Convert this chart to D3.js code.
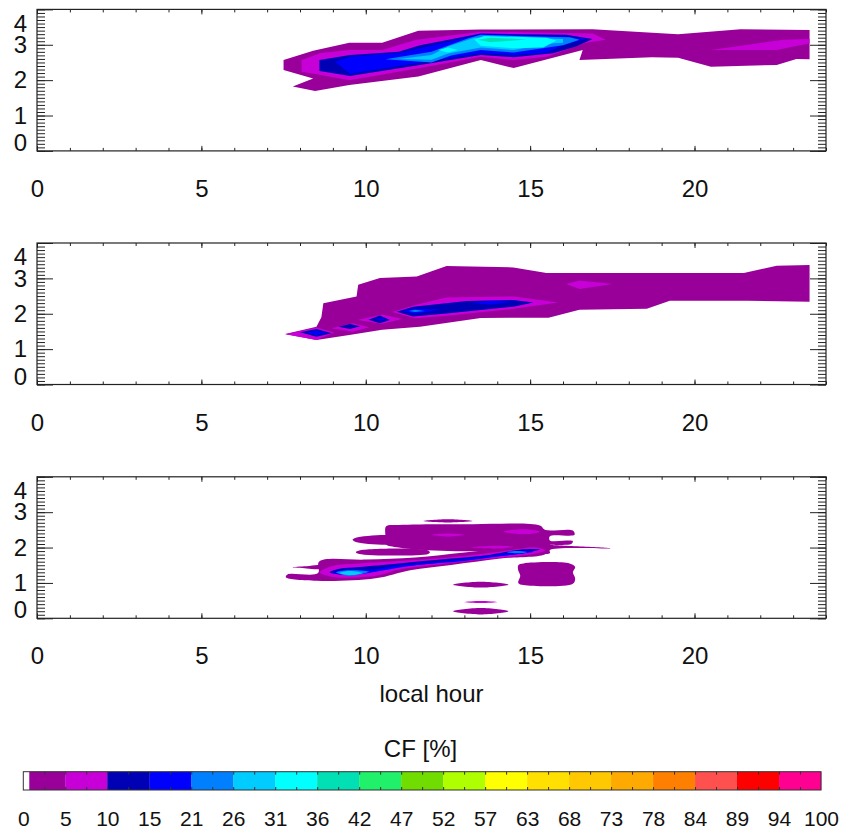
<!DOCTYPE html>
<html>
<head>
<meta charset="utf-8">
<script src="https://cdn.jsdelivr.net/npm/d3@7"></script>
<style>
  html, body { margin: 0; padding: 0; background: #fff; }
  svg { display: block; font-family: "Liberation Sans", Arial, Helvetica, sans-serif; }
</style>
</head>
<body>
<svg id="chart" width="841" height="832"></svg>
<script>
// ---------------- data ----------------
const hourTicks = [0, 5, 10, 15, 20];
const heightTicks = [0, 1, 2, 3, 4];
const xLabel = "local hour";
const cbTitle = "CF [%]";

// colour-bar level boundaries (CF %) and printed labels
const cfLevels = [0, 5.26, 10.53, 15.79, 21.05, 26.32, 31.58, 36.84, 42.11, 47.37,
                  52.63, 57.89, 63.16, 68.42, 73.68, 78.95, 84.21, 89.47, 94.74, 100];
const cfLabels = ["0","5","10","15","21","26","31","36","42","47",
                  "52","57","63","68","73","78","84","89","94","100"];
const cfColors = ["#990099","#C800D8","#0000B4","#0000FF","#0080FF","#00CCFF","#00FFFF",
                  "#00E0B4","#20F06A","#70DC00","#B0FF00","#FFFF00","#FFE000","#FFC800",
                  "#FFAA00","#FF8000","#FF5050","#FF0000","#FF0090"];
const cfZeroBand = 0.75; // white (empty) part of the first colour-bar cell

// filled contour regions: band index into cfColors, outline as [hour, height km]
const panel1Contours = [
  {band: 0, pts: [[7.5,2.57],[8.4,2.83],[9.5,3.06],[10.5,3.06],[11.6,3.4],[13.5,3.43],[16.9,3.44],[19.5,3.3],[21.4,3.44],[23.5,3.42],[23.5,2.59],[23.1,2.6],[22.5,2.43],[20.5,2.38],[19.5,2.63],[18.7,2.65],[16.5,2.57],[16.6,2.85],[14.5,2.34],[13.5,2.57],[11.6,2.1],[9.5,1.86],[8.46,1.69],[7.78,1.82],[8.4,2.05],[7.5,2.29]]},
  {band: 1, pts: [[8.05,2.57],[8.6,2.76],[9.5,2.85],[10.5,2.85],[11.55,3.14],[13.5,3.37],[16.9,3.32],[17.3,3.14],[16.7,3.06],[15.5,2.66],[14.5,2.57],[13.5,2.66],[11.65,2.34],[9.5,2.0],[8.6,2.15],[8.05,2.24]]},
  {band: 1, pts: [[20.5,2.85],[22.7,3.14],[23.5,3.16],[23.5,3.04],[22.5,2.85]]},
  {band: 2, pts: [[8.59,2.57],[9.52,2.71],[11.0,2.8],[11.65,2.99],[13.5,3.32],[16.1,3.28],[16.9,3.16],[16.4,2.95],[15.7,2.76],[14.5,2.65],[13.5,2.71],[11.65,2.43],[9.52,2.12],[8.59,2.26]]},
  {band: 3, pts: [[9.06,2.52],[9.52,2.66],[11.0,2.76],[11.65,2.9],[13.5,3.3],[16.0,3.25],[16.7,3.16],[16.0,2.99],[15.5,2.78],[14.5,2.71],[13.5,2.76],[11.65,2.49],[9.52,2.18]]},
  {band: 4, pts: [[10.6,2.59],[12.0,2.8],[13.1,3.18],[13.5,3.28],[15.4,3.23],[16.2,3.21],[16.5,3.14],[16.0,2.99],[14.5,2.78],[13.5,2.85],[12.6,2.7],[12.0,2.5]]},
  {band: 5, pts: [[11.0,2.6],[12.0,2.71],[12.5,2.95],[13.3,3.2],[15.5,3.18],[16.0,3.16],[16.0,3.06],[15.7,3.04],[14.5,2.85],[13.5,2.92],[12.5,2.75],[12.0,2.58]]},
  {band: 6, pts: [[13.3,3.15],[13.6,3.25],[15.5,3.2],[15.8,3.12],[15.4,2.92],[14.5,2.9],[13.5,2.97]]},
  {band: 6, pts: [[12.2,2.85],[12.5,2.92],[12.8,2.85],[12.5,2.78]]},
  {band: 7, pts: [[13.4,3.14],[13.8,3.2],[14.9,3.15],[13.8,3.07]]}
];

const panel2Contours = [
  {band: 0, pts: [[7.55,1.43],[8.5,1.63],[8.65,1.9],[8.71,2.3],[9.72,2.49],[9.77,2.82],[10.43,3.01],[11.55,3.05],[12.46,3.35],[14.49,3.31],[15.5,3.15],[21.5,3.15],[22.5,3.36],[23.5,3.38],[23.5,2.34],[21.6,2.37],[19.25,2.37],[18.55,2.14],[16.5,2.11],[15.56,1.89],[13.5,1.88],[11.65,1.63],[10.5,1.55],[9.5,1.4],[8.5,1.26]]},
  {band: 1, pts: [[7.55,1.42],[8.5,1.61],[9.05,1.47],[8.5,1.26]]},
  {band: 1, pts: [[8.95,1.59],[9.6,1.73],[10.1,1.62],[9.6,1.49]]},
  {band: 1, pts: [[9.75,1.82],[10.5,1.98],[11.1,1.85],[10.5,1.72]]},
  {band: 1, pts: [[10.8,2.05],[11.5,2.25],[12.46,2.46],[14.5,2.49],[15.86,2.32],[14.5,2.14],[12.46,1.94],[11.5,1.87]]},
  {band: 1, pts: [[16.1,2.84],[16.5,2.94],[17.5,2.84],[16.5,2.7]]},
  {band: 2, pts: [[8.0,1.48],[8.5,1.57],[8.96,1.45],[8.5,1.35]]},
  {band: 2, pts: [[9.17,1.63],[9.52,1.71],[9.83,1.65],[9.52,1.57]]},
  {band: 2, pts: [[10.08,1.83],[10.43,1.95],[10.74,1.82],[10.43,1.73]]},
  {band: 2, pts: [[10.94,2.06],[11.44,2.2],[13.07,2.36],[14.49,2.39],[15.1,2.32],[14.49,2.2],[12.46,2.01],[11.44,1.92]]},
  {band: 3, pts: [[8.2,1.47],[8.5,1.52],[8.8,1.46],[8.5,1.4]]},
  {band: 3, pts: [[10.3,1.84],[10.45,1.88],[10.6,1.84],[10.45,1.8]]},
  {band: 3, pts: [[11.1,2.07],[11.5,2.14],[12.3,2.12],[11.5,2.0]]},
  {band: 3, pts: [[13.2,2.3],[13.8,2.36],[14.5,2.34],[13.8,2.26]]},
  {band: 4, pts: [[11.3,2.08],[11.5,2.11],[11.8,2.08],[11.5,2.05]]}
];

const panel3Contours = [
  {band: 0, pts: [[7.57,1.16],[7.62,1.24],[8.55,1.28],[8.58,1.6],[10.0,1.66],[11.5,1.72],[13.0,1.86],[14.5,2.0],[15.45,2.02],[15.5,1.84],[14.1,1.69],[12.6,1.51],[11.35,1.36],[10.3,1.13],[8.5,1.06]]},
  {band: 0, pts: [[7.75,1.44],[8.2,1.47],[8.6,1.49],[8.6,1.4],[8.2,1.41]]},
  {band: 0, pts: [[9.7,1.87],[9.8,1.92],[11.9,1.92],[11.95,1.86],[11.9,1.82],[9.8,1.82]]},
  {band: 0, pts: [[9.6,2.22],[9.7,2.28],[11.0,2.3],[11.0,2.13],[9.7,2.16]]},
  {band: 0, pts: [[10.6,2.3],[10.62,2.6],[11.0,2.64],[13.2,2.66],[15.3,2.62],[15.45,2.5],[16.3,2.48],[16.35,2.36],[15.6,2.32],[15.6,2.2],[16.3,2.18],[16.25,2.1],[15.6,2.08],[17.45,1.98],[15.6,1.93],[15.6,1.84],[14.6,1.9],[12.5,1.9],[11.0,2.0],[10.6,2.1]]},
  {band: 0, pts: [[11.75,2.75],[12.5,2.8],[13.25,2.75],[12.5,2.71]]},
  {band: 0, pts: [[14.64,1.5],[14.8,1.55],[16.2,1.55],[16.37,1.45],[16.3,1.3],[16.37,1.12],[16.3,0.98],[14.8,0.94],[14.64,1.0],[14.7,1.2],[14.64,1.35]]},
  {band: 0, pts: [[12.66,0.95],[13.5,1.03],[14.34,0.95],[13.5,0.87]]},
  {band: 0, pts: [[12.66,0.2],[13.5,0.29],[14.34,0.2],[13.5,0.11]]},
  {band: 1, pts: [[13.0,0.46],[13.5,0.49],[14.0,0.46],[13.5,0.43]]},
  {band: 1, pts: [[8.6,1.3],[9.0,1.48],[9.8,1.55],[11.0,1.62],[12.5,1.72],[13.8,1.85],[14.8,1.98],[15.2,2.0],[15.45,1.92],[15.2,1.84],[14.5,1.75],[13.2,1.63],[12.0,1.5],[11.0,1.38],[10.3,1.2],[9.0,1.17]]},
  {band: 1, pts: [[12.0,2.36],[12.5,2.4],[13.0,2.36],[12.5,2.31]]},
  {band: 1, pts: [[14.2,2.45],[14.8,2.52],[15.3,2.45],[14.8,2.38]]},
  {band: 1, pts: [[13.2,2.0],[14.0,2.05],[14.5,2.02],[14.0,1.97]]},
  {band: 2, pts: [[8.9,1.3],[9.2,1.4],[9.8,1.45],[11.0,1.55],[12.5,1.68],[13.8,1.8],[14.8,1.95],[15.3,1.95],[14.8,1.84],[13.5,1.7],[12.0,1.55],[11.0,1.45],[10.0,1.28],[9.2,1.24]]},
  {band: 3, pts: [[9.0,1.3],[9.4,1.38],[10.2,1.38],[11.0,1.5],[12.5,1.63],[13.8,1.77],[14.7,1.9],[15.1,1.88],[14.3,1.78],[13.0,1.62],[11.5,1.5],[10.5,1.35],[9.5,1.22]]},
  {band: 4, pts: [[9.1,1.3],[9.5,1.36],[10.1,1.32],[9.5,1.2]]},
  {band: 4, pts: [[14.3,1.87],[14.6,1.9],[14.9,1.87],[14.6,1.84]]},
  {band: 5, pts: [[9.2,1.28],[9.5,1.34],[9.9,1.28],[9.5,1.22]]}
];

const panels = [panel1Contours, panel2Contours, panel3Contours];

// ---------------- layout ----------------
const svg = d3.select("#chart");
const plotLeft = 37, plotRight = 826, plotH = 141.5;
const panelTops = [9.4, 243, 476.8];

const x = d3.scaleLinear().domain([0, 24]).range([plotLeft, plotRight]);

panels.forEach((contours, i) => {
  const top = panelTops[i], bottom = top + plotH;
  const y = d3.scaleLinear().domain([0, 4]).range([bottom, top]);

  const clipId = "clip" + i;
  svg.append("clipPath").attr("id", clipId)
    .append("rect").attr("x", plotLeft).attr("y", top)
    .attr("width", plotRight - plotLeft).attr("height", plotH);

  const line = d3.line()
    .x(d => x(d[0])).y(d => y(d[1]))
    .curve(i === 2 ? d3.curveCatmullRomClosed.alpha(0.5) : d3.curveLinearClosed);

  svg.append("g").attr("clip-path", `url(#${clipId})`)
    .selectAll("path").data(contours).join("path")
    .attr("d", d => line(d.pts))
    .attr("fill", d => cfColors[d.band])
    .attr("stroke", "none");

  const axisStyle = g => {
    g.select(".domain").remove();
    g.selectAll(".tick line").attr("stroke", "#222").attr("stroke-width", 1);
    g.selectAll("text").attr("fill", "#111").attr("font-size", 24)
      .attr("font-family", "'Liberation Sans', Arial, Helvetica, sans-serif");
  };

  // x axis bottom: minor + major (labels)
  svg.append("g").attr("transform", `translate(0,${bottom})`)
    .call(d3.axisBottom(x).tickValues(d3.range(0, 25, 1)).tickSize(-3).tickSizeOuter(0).tickFormat(""))
    .call(axisStyle);
  svg.append("g").attr("transform", `translate(0,${bottom})`)
    .call(d3.axisBottom(x).tickValues(hourTicks).tickSize(-5).tickSizeOuter(0).tickPadding(29).tickFormat(d3.format("d")))
    .call(axisStyle);
  // x axis top
  svg.append("g").attr("transform", `translate(0,${top})`)
    .call(d3.axisTop(x).tickValues(d3.range(0, 25, 1)).tickSize(-3).tickSizeOuter(0).tickFormat(""))
    .call(axisStyle);
  svg.append("g").attr("transform", `translate(0,${top})`)
    .call(d3.axisTop(x).tickValues(hourTicks).tickSize(-5).tickSizeOuter(0).tickFormat(""))
    .call(axisStyle);

  // y axis left: minor + major (labels)
  const minorY = d3.range(0, 41, 1).map(k => k / 10);
  svg.append("g").attr("transform", `translate(${plotLeft},0)`)
    .call(d3.axisLeft(y).tickValues(minorY).tickSize(-8).tickSizeOuter(0).tickFormat(""))
    .call(axisStyle);
  const yl = svg.append("g").attr("transform", `translate(${plotLeft},0)`)
    .call(d3.axisLeft(y).tickValues(heightTicks).tickSize(-16).tickSizeOuter(0).tickPadding(10).tickFormat(d3.format("d")))
    .call(axisStyle);
  yl.selectAll(".tick text")
    .attr("y", d => d === 4 ? 14 : (d === 0 ? -8 : 0));
  // y axis right
  svg.append("g").attr("transform", `translate(${plotRight},0)`)
    .call(d3.axisRight(y).tickValues(minorY).tickSize(-8).tickSizeOuter(0).tickFormat(""))
    .call(axisStyle);
  svg.append("g").attr("transform", `translate(${plotRight},0)`)
    .call(d3.axisRight(y).tickValues(heightTicks).tickSize(-16).tickSizeOuter(0).tickFormat(""))
    .call(axisStyle);

  // frame
  svg.append("rect").attr("x", plotLeft).attr("y", top)
    .attr("width", plotRight - plotLeft).attr("height", plotH)
    .attr("fill", "none").attr("stroke", "#222").attr("stroke-width", 1.2);
});

// x title
svg.append("text").attr("x", (plotLeft + plotRight) / 2).attr("y", 702)
  .attr("text-anchor", "middle").attr("font-size", 24).attr("fill", "#111")
  .text(xLabel);

// ---------------- colour bar ----------------
const cbTop = 771.7, cbH = 18.3;
const cb = d3.scaleLinear().domain([0, 100]).range([23.3, 821]);

svg.append("text").attr("x", 420.5).attr("y", 757)
  .attr("text-anchor", "middle").attr("font-size", 24).attr("fill", "#111")
  .text(cbTitle);

const bands = cfColors.map((c, k) => ({
  from: k === 0 ? cfZeroBand : cfLevels[k], to: cfLevels[k + 1], color: c
}));
svg.append("rect").attr("x", cb(0)).attr("y", cbTop)
  .attr("width", cb(cfZeroBand) - cb(0)).attr("height", cbH).attr("fill", "#fff");
svg.append("g").selectAll("rect").data(bands).join("rect")
  .attr("x", d => cb(d.from)).attr("y", cbTop)
  .attr("width", d => cb(d.to) - cb(d.from) + 0.3).attr("height", cbH)
  .attr("fill", d => d.color);

// small ticks at every half level, top and bottom
const halfLevels = d3.range(1, 38).map(k => k * 100 / 38);
svg.append("g").attr("transform", `translate(0,${cbTop + cbH})`)
  .call(d3.axisBottom(cb).tickValues(halfLevels).tickSize(-3).tickSizeOuter(0).tickFormat(""))
  .call(g => { g.select(".domain").remove(); g.selectAll("line").attr("stroke", "#333"); });
svg.append("g").attr("transform", `translate(0,${cbTop})`)
  .call(d3.axisTop(cb).tickValues(halfLevels).tickSize(-3).tickSizeOuter(0).tickFormat(""))
  .call(g => { g.select(".domain").remove(); g.selectAll("line").attr("stroke", "#333"); });

svg.append("rect").attr("x", cb(0)).attr("y", cbTop)
  .attr("width", cb(100) - cb(0)).attr("height", cbH)
  .attr("fill", "none").attr("stroke", "#333").attr("stroke-width", 1);

// colour-bar labels
svg.append("g").attr("transform", `translate(0,${cbTop + cbH})`)
  .call(d3.axisBottom(cb).tickValues(cfLevels).tickSize(0).tickPadding(21)
        .tickFormat((d, k) => cfLabels[k]))
  .call(g => {
    g.select(".domain").remove();
    g.selectAll("text").attr("font-size", 21).attr("fill", "#111")
      .attr("font-family", "'Liberation Sans', Arial, Helvetica, sans-serif");
  });
</script>
</body>
</html>
